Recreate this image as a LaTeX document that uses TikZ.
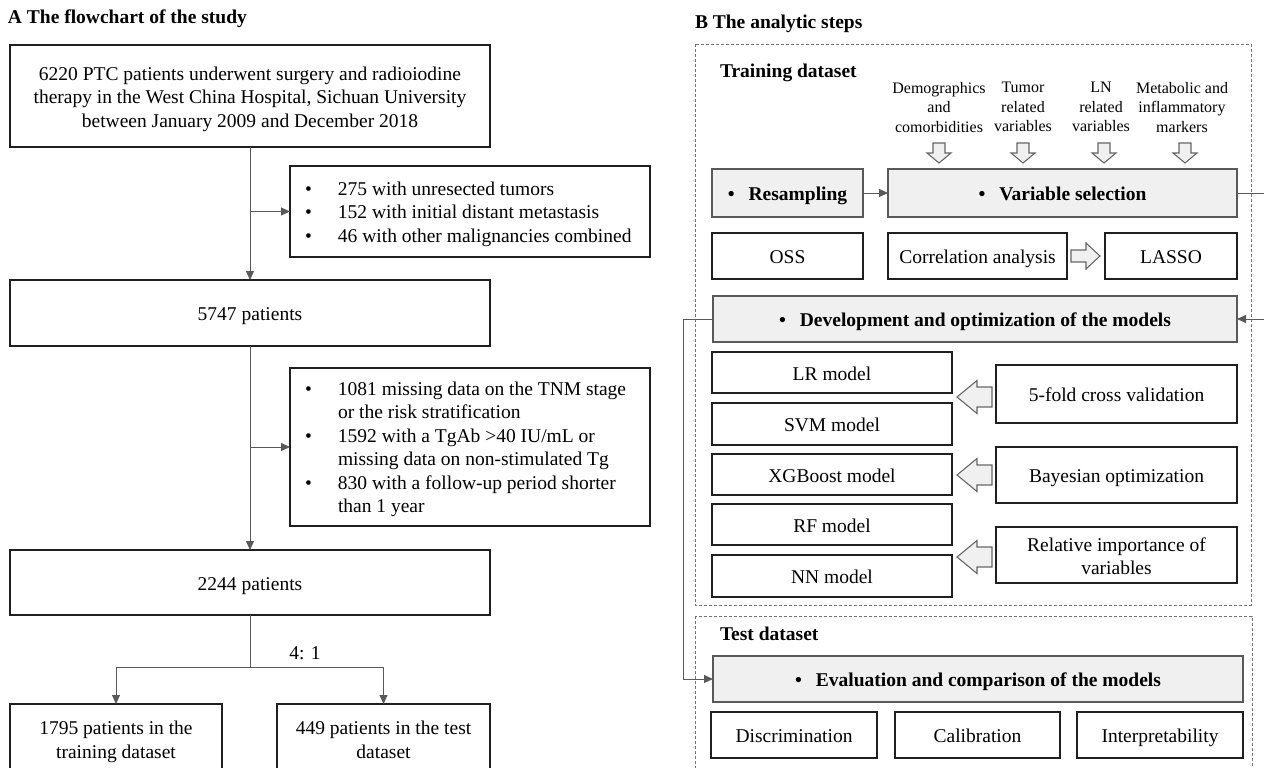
\documentclass[tikz,border=0pt]{standalone}
\usepackage{fontspec}
\setmainfont{Liberation Serif}
\usetikzlibrary{arrows.meta}
\newcommand{\rbox}[7]{\node[#1, minimum width={#5-#3}, minimum height={#6-#4}] (#2) at ({(#3+#5)/2},{(#4+#6)/2}) {#7};}
\newcommand{\darr}[1]{\draw[harrow] ({#1-6},143) -- ({#1+6},143) -- ({#1+6},153) -- ({#1+12},153) -- (#1,163) -- ({#1-12},153) -- ({#1-6},153) -- cycle;}
\newcommand{\larr}[1]{\draw[harrow] (957,#1) -- (977,{#1-16.5}) -- (977,{#1-10}) -- (992,{#1-10}) -- (992,{#1+10}) -- (977,{#1+10}) -- (977,{#1+16.5}) -- cycle;}
\newcommand{\bsta}{\rule{0pt}{20pt}}
\newcommand{\bstm}{\rule{0pt}{20pt}}
\newcommand{\bstb}{\rule[-4.5pt]{0pt}{4.5pt}}
\newcommand{\cst}{\rule[-4pt]{0pt}{15pt}}
\begin{document}
\begin{tikzpicture}[x=1pt,y=-1pt,
 every node/.style={font=\fontsize{19.5}{23.5}\selectfont, inner sep=0pt, outer sep=0pt},
 xbox/.style={draw=black!88, line width=1.6pt, rectangle, align=center},
 box/.style={xbox, execute at begin node={\bsta}, execute at end node={\bstb}},
 gbox/.style={draw=black!65, line width=1.8pt, fill=black!6, rectangle, align=center, execute at begin node={\bsta}, execute at end node={\bstb}, font=\fontsize{19.5}{23.5}\selectfont\bfseries},
 list/.style={anchor=north west},
 conn/.style={draw=black!65, line width=0.9pt, -{Triangle[length=9pt,width=8pt]}},
 plain/.style={draw=black!65, line width=0.9pt},
 dbox/.style={draw=black!55, line width=0.8pt, dash pattern=on 3pt off 2pt},
 harrow/.style={draw=black!60, line width=1.1pt, fill=black!6, line join=miter},
 head/.style={font=\fontsize{19.5}{23.5}\selectfont\bfseries, anchor=west},
 cat/.style={font=\fontsize{16}{19.5}\selectfont, align=center, execute at begin node={\cst}, execute at end node={\cst}},
]
\useasboundingbox (0,0) rectangle (1264,768);
\clip (0,0) rectangle (1264,768);
% ---------------- Panel A ----------------
\node[head] (ta) at (8,19) {A The flowchart of the study};
\rbox{box}{b1}{10}{45}{490}{147}{\bstm 6220 PTC patients underwent surgery and radioiodine\\therapy in the West China Hospital, Sichuan University\\between January 2009 and December 2018}
\rbox{xbox}{e1}{290}{166}{650}{257}{}
\node[list] (e1t) at (305,179) {\begin{tabular}{@{}p{33pt}@{}l@{}}\textbullet & 275 with unresected tumors\\ \textbullet & 152 with initial distant metastasis\\ \textbullet & 46 with other malignancies combined\end{tabular}};
\rbox{box}{b2}{10}{280}{490}{346}{5747 patients}
\rbox{xbox}{e2}{290}{368}{650}{526}{}
\node[list] (e2t) at (305,379) {\begin{tabular}{@{}p{33pt}@{}l@{}}\textbullet & 1081 missing data on the TNM stage\\ & or the risk stratification\\ \textbullet & 1592 with a TgAb >40 IU/mL or\\ & missing data on non-stimulated Tg\\ \textbullet & 830 with a follow-up period shorter\\ & than 1 year\end{tabular}};
\rbox{box}{b3}{10}{550}{490}{615}{2244 patients}
\rbox{box}{bl}{10}{704}{222}{773}{\bstm 1795 patients in the\\training dataset}
\rbox{box}{br}{277}{704}{490}{773}{\bstm 449 patients in the test\\dataset}
\draw[conn] (b1) -- (b2);
\draw[conn] (b1.south |- e1.west) -- (e1.west);
\draw[conn] (b2) -- (b3);
\draw[conn] (b2.south |- e2.west) -- (e2.west);
\coordinate (sp) at (250,667);
\draw[plain] (b3.south) -- (sp);
\draw[conn] (sp) -| (bl.north);
\draw[conn] (sp) -| (br.north);
\node (ratio) at (305,653) {4: 1};
% ---------------- Panel B ----------------
\node[head] (tb) at (695,24) {B The analytic steps};
\draw[dbox] (695,44) rectangle (1251,605);
\draw[dbox] (695,616) rectangle (1252,790);
\node[head] (ttr) at (720,73) {Training dataset};
\node[head] (tte) at (720,634) {Test dataset};
\node[cat] (c1) at (939,109) {Demographics\\and\\comorbidities};
\node[cat] (c2) at (1023,109) {Tumor\\related\\variables};
\node[cat] (c3) at (1101,109) {LN\\related\\variables};
\node[cat] (c4) at (1182,109) {Metabolic and\\inflammatory\\markers};
\darr{939}\darr{1023}\darr{1104}\darr{1185}
\rbox{gbox}{rs}{712}{169}{863}{217}{\textbullet\hspace{14pt}Resampling}
\rbox{gbox}{vs}{888}{169}{1237}{217}{\textbullet\hspace{14pt}Variable selection}
\rbox{box}{oss}{712}{233}{863}{279}{OSS}
\rbox{box}{ca}{888}{233}{1067}{279}{Correlation analysis}
\rbox{box}{la}{1105}{233}{1237}{279}{LASSO}
\draw[harrow] (1071,250) -- (1086,250) -- (1086,243) -- (1100,256) -- (1086,269) -- (1086,262) -- (1071,262) -- cycle;
\rbox{gbox}{dev}{713}{296}{1237}{342}{\textbullet\hspace{14pt}Development and optimization of the models}
\rbox{box}{lr}{712}{352}{952}{393}{LR model}
\rbox{box}{svm}{712}{403}{952}{445}{SVM model}
\rbox{box}{xgb}{712}{454}{952}{495}{XGBoost model}
\rbox{box}{rf}{712}{504}{952}{545}{RF model}
\rbox{box}{nn}{712}{555}{952}{597}{NN model}
\rbox{box}{cv}{996}{365}{1237}{423}{5-fold cross validation}
\rbox{box}{bo}{996}{447}{1237}{503}{Bayesian optimization}
\rbox{box}{ri}{996}{527}{1237}{583}{\bstm Relative importance of\\variables}
\larr{397}\larr{475}\larr{557}
\rbox{gbox}{ev}{713}{656}{1243}{702}{\textbullet\hspace{14pt}Evaluation and comparison of the models}
\rbox{box}{dis}{711}{712}{877}{758}{Discrimination}
\rbox{box}{cal}{895}{712}{1060}{758}{Calibration}
\rbox{box}{int}{1077}{712}{1243}{758}{Interpretability}
\draw[conn] (rs) -- (vs);
\coordinate (rr) at (1290,0);
\draw[conn] (vs.east) -- (vs.east -| rr) |- (dev.east);
\coordinate (ll) at (683,0);
\draw[conn] (dev.west) -- (dev.west -| ll) |- (ev.west);
\end{tikzpicture}
\end{document}
